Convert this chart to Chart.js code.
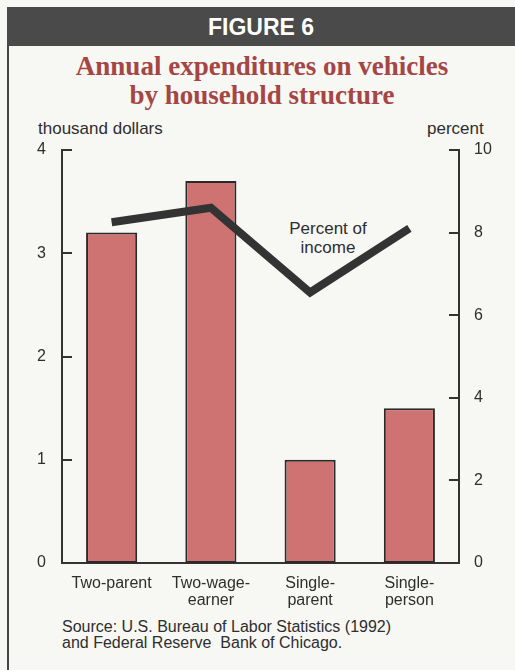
<!DOCTYPE html>
<html>
<head>
<meta charset="utf-8">
<script src="https://cdn.jsdelivr.net/npm/chart.js@4.4.0/dist/chart.umd.min.js"></script>
<style>
  html, body { margin: 0; padding: 0; }
  body { width: 515px; height: 670px; background: #f7f7f4; position: relative; overflow: hidden;
         font-family: "Liberation Sans", Arial, sans-serif; color: #2e2e2e; }
  #frame { position: absolute; left: 7px; top: 7px; width: 2px; height: 663px; background: #444; }
  #header { position: absolute; left: 7px; top: 7px; width: 508px; height: 39px; background: #4a4a4a;
            color: #fff; font-weight: bold; font-size: 23px; text-align: center; line-height: 41px; }
  #title { position: absolute; left: 9px; width: 506px; top: 52px; text-align: center;
           font-family: "Liberation Serif", "Times New Roman", serif; font-weight: bold;
           font-size: 27px; line-height: 29px; color: #a54645; }
  .lbl { position: absolute; font-size: 17px; line-height: 17px; white-space: nowrap; }
  #wrap { position: absolute; left: 0; top: 0; width: 515px; height: 670px; }
</style>
</head>
<body>
<div id="frame"></div>
<div id="header">FIGURE 6</div>
<div id="title">Annual expenditures on vehicles<br>by household structure</div>
<div class="lbl" style="left:38px; top:120px;">thousand dollars</div>
<div class="lbl" style="left:427px; top:120px;">percent</div>
<div class="lbl" style="left:280px; top:219px; font-size:17px; line-height:19px; text-align:center; width:96px;">Percent of<br>income</div>
<div class="lbl" style="left:62px; top:619px; font-size:16px; line-height:16px;">Source: U.S. Bureau of Labor Statistics (1992)<br>and Federal Reserve&nbsp; Bank of Chicago.</div>
<div id="wrap"><canvas id="chart"></canvas></div>
<script>
const categories = [['Two-parent'], ['Two-wage-', 'earner'], ['Single-', 'parent'], ['Single-', 'person']];
const spending = [3.2, 3.7, 1.0, 1.5];      // thousand dollars
const pctIncome = [8.25, 8.6, 6.55, 8.1];   // percent of income

const ink = '#2e2e2e';

// short inward ticks on both value axes
const innerTicks = {
  id: 'innerTicks',
  afterDraw(chart) {
    const ctx = chart.ctx;
    const { y, y1 } = chart.scales;
    ctx.save();
    ctx.strokeStyle = '#333';
    ctx.lineWidth = 2;
    y.ticks.forEach((t) => {
      const py = Math.round(y.getPixelForValue(t.value));
      ctx.beginPath();
      ctx.moveTo(y.right, py);
      ctx.lineTo(y.right + 10, py);
      ctx.stroke();
    });
    y1.ticks.forEach((t) => {
      const py = Math.round(y1.getPixelForValue(t.value));
      ctx.beginPath();
      ctx.moveTo(y1.left, py);
      ctx.lineTo(y1.left - 10, py);
      ctx.stroke();
    });
    ctx.restore();
  },
};

const tickFont = { family: '"Liberation Sans", Arial, sans-serif', size: 16 };

new Chart(document.getElementById('chart'), {
  data: {
    labels: categories,
    datasets: [
      {
        type: 'line',
        data: pctIncome,
        yAxisID: 'y1',
        borderColor: '#333',
        borderWidth: 8,
        borderCapStyle: 'butt',
        borderJoinStyle: 'miter',
        pointRadius: 0,
        tension: 0,
        order: 0,
      },
      {
        type: 'bar',
        data: spending,
        yAxisID: 'y',
        backgroundColor: '#cf7272',
        borderColor: '#2a2a2a',
        borderWidth: 2,
        borderSkipped: false,
        barPercentage: 0.515,
        categoryPercentage: 1,
        order: 1,
      },
    ],
  },
  plugins: [innerTicks],
  options: {
    responsive: true,
    maintainAspectRatio: false,
    animation: false,
    layout: { padding: { top: 150, bottom: 47, left: 0, right: 0 } },
    plugins: { legend: { display: false }, tooltip: { enabled: false } },
    scales: {
      x: {
        grid: { display: false, drawTicks: false },
        border: { display: true, color: '#333', width: 2 },
        ticks: { color: ink, font: { ...tickFont, lineHeight: 1.05 }, padding: 12, maxRotation: 0, autoSkip: false },
        afterFit: (s) => { s.height = 60; },
      },
      y: {
        position: 'left',
        min: 0,
        max: 4,
        ticks: { stepSize: 1, color: ink, font: tickFont, padding: 16 },
        grid: { display: false, drawTicks: false },
        border: { display: true, color: '#333', width: 2 },
        afterFit: (s) => { s.width = 62; },
      },
      y1: {
        position: 'right',
        min: 0,
        max: 10,
        ticks: { stepSize: 2, color: ink, font: tickFont, padding: 15 },
        grid: { display: false, drawTicks: false },
        border: { display: true, color: '#333', width: 2 },
        afterFit: (s) => { s.width = 56; },
      },
    },
  },
});
</script>
</body>
</html>
